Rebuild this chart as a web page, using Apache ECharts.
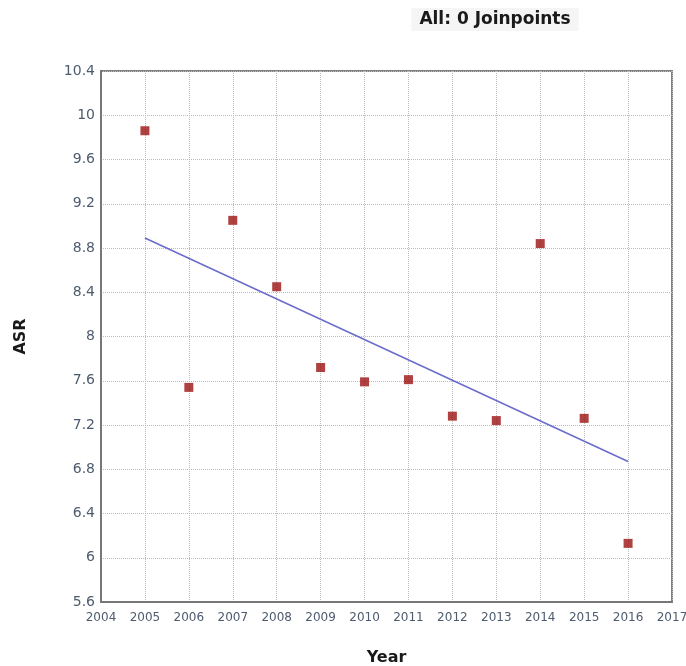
<!DOCTYPE html>
<html><head><meta charset="utf-8">
<script src="https://cdn.jsdelivr.net/npm/echarts@6/dist/echarts.min.js"></script>
<style>html,body{margin:0;padding:0;background:#fff}#c{width:686px;height:666px}</style>
</head><body><div id="c"></div>
<script>
const years = [2005,2006,2007,2008,2009,2010,2011,2012,2013,2014,2015,2016];
const asr = [9.86,7.54,9.05,8.45,7.72,7.59,7.61,7.28,7.24,8.84,7.26,6.13];
const fitYears = [2005,2016];
const fitValues = [8.89,6.87];
const titleText = 'All: 0 Joinpoints';
const xName = 'Year';
const yName = 'ASR';

const chart = echarts.init(document.getElementById('c'));
const nameStyle = {fontFamily:'DejaVu Sans',fontWeight:'bold',fontSize:16,color:'#1a1a1a'};
chart.setOption({
  animation:false,
  title:{text:titleText,left:487,top:8,textAlign:'center',
    textStyle:{fontFamily:'DejaVu Sans',fontWeight:'bold',fontSize:17,color:'#1a1a1a'},
    backgroundColor:'#f5f5f5',padding:[3,8]},
  grid:{left:101,right:14,top:71,bottom:64,show:true,borderColor:'#808080',borderWidth:2,
    backgroundColor:'#fff',containLabel:false,outerBoundsMode:'none'},
  xAxis:{type:'value',min:2004,max:2017,interval:1,
    name:xName,nameLocation:'middle',nameGap:48,nameTextStyle:nameStyle,
    axisLine:{show:true,lineStyle:{color:'#777',width:2}},
    axisTick:{show:false},
    axisLabel:{margin:10,formatter:v=>String(v),color:'#4d5b6e',fontFamily:'DejaVu Sans',fontSize:12},
    splitLine:{show:true,lineStyle:{color:'#bbb',type:'dotted'}}},
  yAxis:{type:'value',min:5.6,max:10.4,interval:0.4,
    name:yName,nameLocation:'middle',nameGap:72,nameRotate:90,nameTextStyle:nameStyle,
    axisLine:{show:true,lineStyle:{color:'#777',width:2}},
    axisTick:{show:false},
    axisLabel:{margin:6,formatter:v=>String(+v.toFixed(1)),color:'#4d5b6e',fontFamily:'DejaVu Sans',fontSize:14},
    splitLine:{show:true,lineStyle:{color:'#bbb',type:'dotted'}}},
  series:[
    {type:'line',data:fitYears.map((y,i)=>[y,fitValues[i]]),symbol:'none',
     lineStyle:{color:'#6b6bcc',width:1.5},z:2},
    {type:'scatter',data:years.map((y,i)=>[y,asr[i]]),symbol:'rect',symbolSize:9,
     itemStyle:{color:'#9b1212'},z:3}
  ]
});
</script></body></html>
